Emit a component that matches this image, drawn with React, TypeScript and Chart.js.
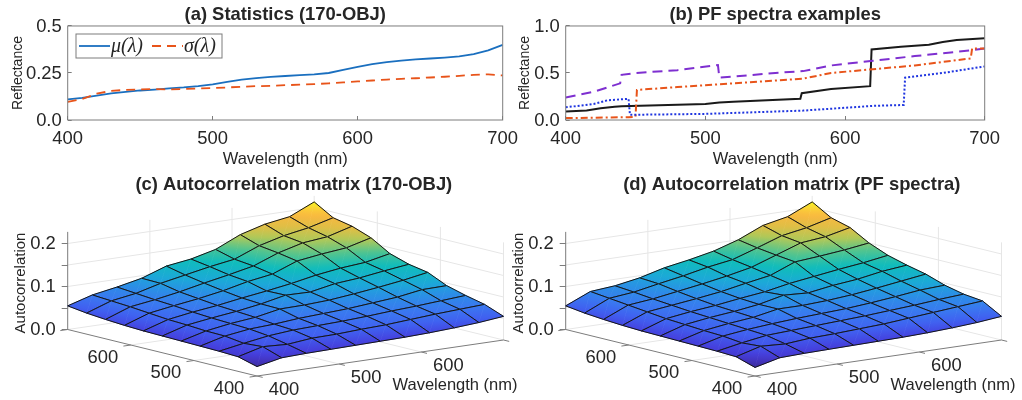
import React, { useEffect, useRef } from "react";
import { Chart, registerables } from "chart.js";

Chart.register(...registerables);

// ---------- data ----------
const wavelengthsA = [400,410,420,430,440,450,460,470,480,490,500,510,520,530,540,550,560,570,580,590,600,610,620,630,640,650,660,670,680,690,700];
const meanValues = [.11,.118,.13,.142,.15,.157,.162,.168,.173,.18,.19,.203,.215,.223,.229,.234,.239,.243,.25,.267,.283,.297,.308,.316,.322,.327,.332,.338,.35,.37,.40];
const stdValues = [.097,.112,.14,.155,.16,.163,.164,.163,.165,.168,.17,.173,.177,.18,.182,.185,.188,.191,.195,.2,.205,.21,.215,.219,.222,.226,.23,.235,.24,.243,.237];

const blackX = [400,415,425,435,440,500,510,520,568,569,590,618,619,640,660,670,680,700];
const blackY = [.09,.10,.125,.14,.145,.17,.185,.195,.225,.285,.33,.36,.75,.78,.80,.83,.85,.87];
const purpleX = [400,420,439,440,450,480,509,510,550,570,590,620,650,690,700];
const purpleY = [.24,.30,.39,.48,.50,.53,.585,.45,.50,.52,.58,.63,.68,.74,.76];
const orangeX = [400,445,450,451,480,520,570,590,620,650,690,691,700];
const orangeY = [.02,.03,.035,.32,.35,.39,.44,.50,.54,.58,.655,.76,.76];
const blueX = [400,420,430,445,446,500,570,620,642,643,670,700];
const blueY = [.135,.17,.21,.225,.055,.065,.10,.15,.16,.45,.50,.57];

const surfaceC = [
  [.022,.034,.036,.037,.038,.039,.040,.042,.045,.049,.055],
  [.034,.049,.046,.052,.053,.056,.058,.062,.066,.069,.072],
  [.036,.046,.055,.060,.062,.064,.067,.071,.074,.078,.082],
  [.037,.052,.060,.063,.068,.071,.074,.079,.084,.093,.094],
  [.038,.053,.062,.068,.079,.080,.083,.089,.096,.104,.114],
  [.039,.056,.064,.071,.080,.092,.091,.102,.107,.115,.122],
  [.040,.058,.067,.074,.083,.091,.100,.111,.119,.124,.136],
  [.042,.062,.071,.079,.089,.102,.111,.133,.141,.147,.162],
  [.045,.066,.074,.084,.096,.107,.119,.141,.156,.162,.178],
  [.049,.069,.078,.093,.104,.115,.124,.147,.162,.172,.187],
  [.055,.072,.082,.094,.114,.122,.136,.162,.178,.187,.213],
];
const surfaceD = [
  [.020,.034,.036,.037,.038,.039,.040,.042,.045,.049,.055],
  [.034,.050,.047,.052,.054,.057,.060,.065,.070,.075,.080],
  [.036,.047,.056,.059,.062,.065,.068,.072,.076,.081,.085],
  [.037,.052,.059,.064,.068,.071,.074,.079,.085,.092,.095],
  [.038,.054,.062,.068,.079,.079,.082,.087,.094,.102,.110],
  [.039,.057,.065,.071,.079,.092,.089,.098,.104,.114,.120],
  [.040,.060,.068,.074,.082,.089,.100,.108,.116,.123,.132],
  [.042,.065,.072,.079,.087,.098,.108,.131,.136,.142,.150],
  [.045,.070,.076,.085,.094,.104,.116,.136,.156,.162,.175],
  [.049,.075,.081,.092,.102,.114,.123,.142,.162,.172,.187],
  [.055,.080,.085,.095,.110,.120,.132,.150,.175,.187,.213],
];

const xTicks3D = [400, 500, 600, 700];
const xLabels3D = ["400", "500", "600"];
const zTickValues = [0, 0.05, 0.1, 0.15, 0.2];
const zTickLabels = ["0.0", "", "0.1", "", "0.2"];
const legendLabels = ["μ(λ)", "σ(λ)"];

// ---------- styles ----------
const SANS = "'Liberation Sans', Arial, sans-serif";
const TEXT = "#262626";
const AXIS = "#7c7c7c";
const parula = [
  [0, "#3A2A98"], [0.05, "#4334C0"], [0.1, "#4540DD"], [0.18, "#4060F0"], [0.26, "#3A78F0"], [0.34, "#2A90E5"],
  [0.41, "#1CA8D8"], [0.52, "#10BCBC"], [0.62, "#50C490"], [0.72, "#B0C858"], [0.8, "#E0BE45"], [0.88, "#F8B840"],
  [0.93, "#FBC93A"], [1, "#F8F520"],
] as [number, string][];
const Z_LOW = 0.02, Z_HIGH = 0.213;
const TICK_SIZE = 18.4, TITLE_SIZE = 18.4, LABEL_SIZE = 16.5;

// ---------- 2D panels ----------
const areaLeft = 67.7, areaWidth = 435, areaBottom = 120, panelH = 170, panelW = 540;

function framePlugin(legend: null | { color: string; dash: number[] }[]) {
  return {
    id: "frame",
    afterDatasetsDraw(chart: any) {
      const { ctx, chartArea: a } = chart;
      ctx.save();
      ctx.strokeStyle = AXIS;
      ctx.lineWidth = 1;
      ctx.strokeRect(a.left, a.top, a.right - a.left, a.bottom - a.top);
      if (legend) {
        ctx.fillStyle = "#fff";
        ctx.fillRect(76, 34, 146, 24);
        ctx.strokeRect(76, 34, 146, 24);
        const starts = [79, 152];
        legend.forEach((l, i) => {
          ctx.strokeStyle = l.color;
          ctx.lineWidth = 1.8;
          ctx.setLineDash(l.dash);
          ctx.beginPath();
          ctx.moveTo(starts[i], 46);
          ctx.lineTo(starts[i] + 31, 46);
          ctx.stroke();
          ctx.setLineDash([]);
          ctx.fillStyle = TEXT;
          ctx.font = "italic 20px 'Liberation Serif', serif";
          ctx.textBaseline = "middle";
          ctx.fillText(legendLabels[i], starts[i] + 32, 47);
        });
      }
      ctx.restore();
    },
  };
}

const xyPairs = (xs: number[], ys: number[]) => xs.map((x, i) => ({ x, y: ys[i] }));

function lineConfig(title: string, series: any[], yMax: number, yVals: number[], yLabels: string[], legend: any, labelOffset: number) {
  return {
    type: "line",
    data: {
      datasets: series.map((s) => ({
        data: s.data, borderColor: s.color, borderDash: s.dash, borderWidth: s.width ?? 1.8,
        pointRadius: 0, fill: false, tension: 0,
      })),
    },
    options: {
      animation: false, responsive: false,
      layout: { padding: { right: panelW - areaLeft - areaWidth, left: 0, top: 0, bottom: 0 } },
      plugins: {
        legend: { display: false },
        tooltip: { enabled: false },
        title: {
          display: true, text: title, color: TEXT, fullSize: false,
          font: { family: SANS, size: TITLE_SIZE, weight: "bold", lineHeight: 1.2 },
          padding: { top: 3.5, bottom: 0.4 },
        },
      },
      scales: {
        x: {
          type: "linear", min: 400, max: 700,
          afterFit: (s: any) => { s.height = panelH - areaBottom; },
          grid: { drawOnChartArea: false, tickLength: -4, tickColor: AXIS },
          border: { display: false },
          ticks: { stepSize: 100, maxRotation: 0, padding: 11.5, color: TEXT, font: { family: SANS, size: TICK_SIZE } },
          title: { display: true, text: "Wavelength (nm)", color: TEXT, font: { family: SANS, size: LABEL_SIZE, lineHeight: 1.2 }, padding: { top: 0, bottom: 1 } },
        },
        y: {
          type: "linear", min: 0, max: yMax,
          afterFit: (s: any) => { s.width = areaLeft; },
          afterBuildTicks: (s: any) => { s.ticks = yVals.map((value) => ({ value })); },
          grid: { drawOnChartArea: false, tickLength: -4, tickColor: AXIS },
          border: { display: false },
          ticks: { padding: 10, labelOffset: 1, color: TEXT, font: { family: SANS, size: TICK_SIZE }, callback: (_: any, i: number) => yLabels[i] },
          title: { display: true, text: "Reflectance", color: TEXT, font: { family: SANS, size: 14, lineHeight: 1.2 }, padding: { top: labelOffset, bottom: 0 } },
        },
      },
    },
    plugins: [framePlugin(legend)],
  };
}

// ---------- 3D panels (orthographic projection onto the chart's scales) ----------
const FRONT = { x: 257, y: 376 }, LEFT = { x: 67.7, y: 329.5 }, RIGHT = { x: 503.5, y: 340 };
const PX_PER_Z = 430, Z0_PX = 329.5, TOP3D = 195, BOTTOM3D = 371, PAGE_Y = 170, W3D = 524;

const project = (u: number, v: number, z: number) => {
  const x = FRONT.x + u * (RIGHT.x - FRONT.x) + v * (LEFT.x - FRONT.x);
  const floor = FRONT.y + u * (RIGHT.y - FRONT.y) + v * (LEFT.y - FRONT.y);
  return { x, y: z + (Z0_PX - floor) / PX_PER_Z };
};
const unit = (w: number) => (w - 400) / 300;

function mix(a: string, b: string, t: number) {
  const h = (s: string, i: number) => parseInt(s.slice(i, i + 2), 16);
  const c = [1, 3, 5].map((i) => Math.round(h(a, i) + (h(b, i) - h(a, i)) * t));
  return `rgb(${c[0]},${c[1]},${c[2]})`;
}
function colorAt(z: number) {
  const t = Math.max(0, Math.min(1, (z - Z_LOW) / (Z_HIGH - Z_LOW)));
  for (let k = 1; k < parula.length; k++) {
    if (t <= parula[k][0]) {
      return mix(parula[k - 1][1], parula[k][1], (t - parula[k - 1][0]) / (parula[k][0] - parula[k - 1][0]));
    }
  }
  return parula[parula.length - 1][1];
}

// Linear colour ramp over a triangle: exact, so neighbouring triangles meet without seams.
function triFill(chart: any, pts: { x: number; y: number }[], zs: number[]) {
  const xs = chart.scales.x, ys = chart.scales.y;
  if (!xs || !ys || !chart.chartArea) return colorAt(zs[0]);
  const px = pts.map((p) => [xs.getPixelForValue(p.x), ys.getPixelForValue(p.y)]);
  const x1 = px[1][0] - px[0][0], y1 = px[1][1] - px[0][1], d1 = zs[1] - zs[0];
  const x2 = px[2][0] - px[0][0], y2 = px[2][1] - px[0][1], d2 = zs[2] - zs[0];
  const det = x1 * y2 - x2 * y1;
  if (Math.abs(det) < 1e-6) return colorAt(zs[0]);
  const a = (d1 * y2 - d2 * y1) / det, b = (x1 * d2 - x2 * d1) / det;
  const n2 = a * a + b * b;
  if (n2 < 1e-14) return colorAt(zs[0]);
  const lo = Math.min(...zs), hi = Math.max(...zs);
  const g = chart.ctx.createLinearGradient(
    px[0][0] + (a / n2) * (lo - zs[0]), px[0][1] + (b / n2) * (lo - zs[0]),
    px[0][0] + (a / n2) * (hi - zs[0]), px[0][1] + (b / n2) * (hi - zs[0]),
  );
  for (let k = 0; k <= 8; k++) g.addColorStop(k / 8, colorAt(lo + ((hi - lo) * k) / 8));
  return g;
}

const lineDs = (pts: { x: number; y: number }[], color: string, width: number) => ({
  data: pts, borderColor: color, borderWidth: width, pointRadius: 0, fill: false, tension: 0, clip: false,
});

function surfaceConfig(title: string, matrix: number[][]) {
  const datasets: any[] = [];
  const n = matrix.length;
  const quads: { i: number; j: number }[] = [];
  for (let i = 0; i < n - 1; i++) for (let j = 0; j < n - 1; j++) quads.push({ i, j });
  quads.sort((p, q) => p.i + p.j - (q.i + q.j));
  const vertex = ([a, b]: number[]) => project(a / (n - 1), b / (n - 1), matrix[a][b]);
  for (const { i, j } of quads) {
    const corners = [[i, j], [i + 1, j], [i + 1, j + 1], [i, j + 1]];
    const pts = corners.map(vertex);
    datasets.push(lineDs([...pts, pts[0]], "#141414", 1));
    for (const tri of [[0, 1, 2], [0, 2, 3]]) {
      const tp = tri.map((k) => pts[k]);
      const tz = tri.map((k) => matrix[corners[k][0]][corners[k][1]]);
      const paint = (c: any) => triFill(c.chart, tp, tz);
      datasets.push({
        data: [...tp, tp[0]], borderColor: paint, borderWidth: 0.7, pointRadius: 0, tension: 0, clip: false,
        fill: "shape", backgroundColor: paint,
      });
    }
  }
  const [u500, u600] = [unit(xTicks3D[1]), unit(xTicks3D[2])];
  datasets.push(lineDs([project(0, 0, 0), project(0, 1, 0)], AXIS, 1));
  datasets.push(lineDs([project(0, 0, 0), project(1, 0, 0)], AXIS, 1));
  datasets.push(lineDs([project(0, 1, 0), project(0, 1, 0.227)], AXIS, 1));
  for (const w of xTicks3D) {
    const t = unit(w);
    datasets.push(lineDs([project(0, t, 0), project(-0.03, t, 0)], AXIS, 1));
    datasets.push(lineDs([project(t, 0, 0), project(t, -0.03, 0)], AXIS, 1));
  }
  const GRID = "#e6e6e6";
  for (const t of [u500, u600]) {
    datasets.push(lineDs([project(t, 0, 0), project(t, 1, 0), project(t, 1, 0.227)], GRID, 1));
    datasets.push(lineDs([project(0, t, 0), project(1, t, 0), project(1, t, 0.227)], GRID, 1));
  }
  datasets.push(lineDs([project(1, 0, 0), project(1, 0, 0.227)], GRID, 1));
  datasets.push(lineDs([project(1, 1, 0), project(1, 1, 0.227)], GRID, 1));
  for (const z of zTickValues) {
    datasets.push(lineDs([project(0, 1, z), project(1, 1, z), project(1, 0, z)], GRID, 1));
  }
  const labels3D = {
    id: "labels3D",
    afterDraw(chart: any) {
      const { ctx } = chart;
      ctx.save();
      ctx.fillStyle = TEXT;
      ctx.textAlign = "center";
      ctx.textBaseline = "middle";
      ctx.font = `${TICK_SIZE}px ${SANS}`;
      const put = (text: string, p: { x: number; y: number }, dx: number, dy: number) => {
        ctx.fillText(text, chart.scales.x.getPixelForValue(p.x) + dx, chart.scales.y.getPixelForValue(p.y) + dy);
      };
      xLabels3D.forEach((label, k) => {
        const t = unit(xTicks3D[k]);
        put(label, project(0, t, 0), -28, 12.5);
        put(label, project(t, 0, 0), 27, 13.5);
      });
      ctx.font = `${LABEL_SIZE}px ${SANS}`;
      ctx.fillText("Wavelength (nm)", 455, 385.7 - PAGE_Y);
      ctx.restore();
    },
  };
  return {
    type: "line",
    data: { datasets },
    options: {
      animation: false, responsive: false,
      layout: { padding: { right: 4, left: 0, top: 0, bottom: 230 - (BOTTOM3D - PAGE_Y) } },
      plugins: {
        legend: { display: false },
        tooltip: { enabled: false },
        title: {
          display: true, text: title, color: TEXT, fullSize: false,
          font: { family: SANS, size: TITLE_SIZE, weight: "bold", lineHeight: 1.2 },
          padding: { top: 4, bottom: TOP3D - PAGE_Y - 4 - TITLE_SIZE * 1.2 },
        },
      },
      scales: {
        x: { type: "linear", display: false, min: LEFT.x, max: W3D - 4 },
        y: {
          type: "linear",
          min: (Z0_PX - BOTTOM3D) / PX_PER_Z, max: (Z0_PX - TOP3D) / PX_PER_Z,
          afterFit: (s: any) => { s.width = LEFT.x; },
          afterBuildTicks: (s: any) => { s.ticks = zTickValues.map((value) => ({ value })); },
          grid: { drawOnChartArea: false, tickLength: 6, tickColor: AXIS },
          border: { display: false },
          ticks: { padding: 6, autoSkip: false, color: TEXT, font: { family: SANS, size: TICK_SIZE }, callback: (_: any, i: number) => zTickLabels[i] },
          title: { display: true, text: "Autocorrelation", color: TEXT, font: { family: SANS, size: 15, lineHeight: 1.2 }, padding: { top: 12, bottom: 0 } },
        },
      },
    },
    plugins: [labels3D],
  };
}

// ---------- components ----------
function Panel({ left, top, width, height, config }: { left: number; top: number; width: number; height: number; config: () => any }) {
  const ref = useRef<HTMLCanvasElement | null>(null);
  useEffect(() => {
    const chart = new Chart(ref.current as HTMLCanvasElement, config());
    return () => chart.destroy();
  }, []);
  return <canvas ref={ref} width={width} height={height} style={{ position: "absolute", left, top, width, height, filter: "blur(0.3px)" }} />;
}

export default function App() {
  return (
    <div style={{ position: "fixed", left: 0, top: 0, width: 1022, height: 400, overflow: "hidden", background: "#fff" }}>
      <Panel left={0} top={0} width={panelW} height={panelH} config={() => lineConfig(
        "(a) Statistics (170-OBJ)",
        [
          { data: xyPairs(wavelengthsA, stdValues), color: "#E8541A", dash: [9, 6] },
          { data: xyPairs(wavelengthsA, meanValues), color: "#1A6FBF", dash: [] },
        ],
        0.5, [0, 0.25, 0.5], ["0.0", "0.25", "0.5"],
        [{ color: "#1A6FBF", dash: [] }, { color: "#E8541A", dash: [9, 6] }], 9.5,
      )} />
      <Panel left={497.67} top={0} width={524} height={panelH} config={() => lineConfig(
        "(b) PF spectra examples",
        [
          { data: xyPairs(blueX, blueY), color: "#1F35E0", dash: [2, 2], width: 2 },
          { data: xyPairs(orangeX, orangeY), color: "#E8541A", dash: [7, 3, 2, 3], width: 2 },
          { data: xyPairs(purpleX, purpleY), color: "#7E2FD0", dash: [10, 6], width: 2 },
          { data: xyPairs(blackX, blackY), color: "#1a1a1a", dash: [], width: 2 },
        ],
        1, [0, 0.5, 1], ["0.0", "0.5", "1.0"], null, 18.5,
      )} />
      <Panel left={0} top={PAGE_Y} width={W3D} height={230} config={() => surfaceConfig("(c) Autocorrelation matrix (170-OBJ)", surfaceC)} />
      <Panel left={497.67} top={PAGE_Y} width={W3D} height={230} config={() => surfaceConfig("(d) Autocorrelation matrix (PF spectra)", surfaceD)} />
    </div>
  );
}
